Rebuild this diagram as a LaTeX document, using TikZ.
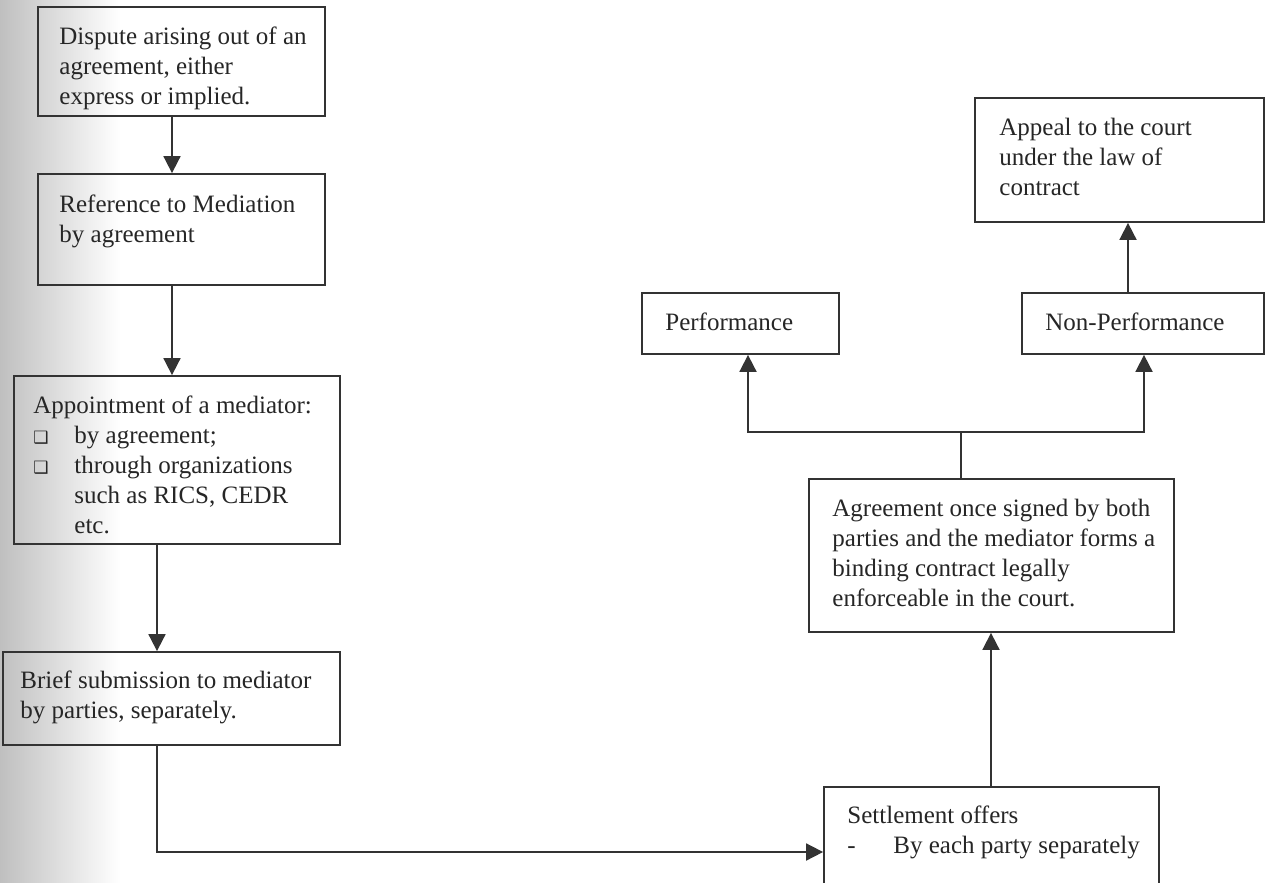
\documentclass[tikz,border=0pt]{standalone}
\usepackage{fontspec}
\setmainfont{Liberation Serif}
\newfontfamily\symfont{DejaVu Sans}
\usetikzlibrary{arrows.meta,fit}
\newcommand\mystrut{\rule{0pt}{10pt}}
\newcommand\mybul{\makebox[20.5pt][l]{{\symfont\fontsize{8.5}{8.5}\selectfont ❑}}}
\newcommand\myind{\hspace*{20.5pt}}
\begin{document}
\begin{tikzpicture}[x=0.5pt,y=-0.5pt,
  box/.style={draw=black!80, line width=0.9pt, inner sep=0pt},
  txt/.style={anchor=north west, inner sep=0pt, align=left,
    font=\fontsize{12.5}{15}\selectfont, text=black!85},
  arr/.style={draw=black!80, line width=0.9pt, -{Triangle[length=8.5pt,width=8.5pt]}},
  ln/.style={draw=black!80, line width=0.9pt}]
\useasboundingbox (0,0) rectangle (1272,882);
\clip (0,0) rectangle (1272,882);
\fill[white] (0,0) rectangle (1272,882);
\shade[left color=black!25, right color=white] (0,0) rectangle (120,882);

% left column boxes
\node[box, fit={(38,7) (325,116)}] (b1) {};
\node[box, fit={(38,174) (325,285)}] (b2) {};
\node[box, fit={(14,376) (340,544)}] (b3) {};
\node[box, fit={(3,652) (340,745)}] (b4) {};
% right side boxes
\node[box, fit={(824,787) (1159,900)}] (settle) {};
\node[box, fit={(809,479) (1174,632)}] (agree) {};
\node[box, fit={(642,293) (839,354)}] (perf) {};
\node[box, fit={(1022,293) (1264,354)}] (nonperf) {};
\node[box, fit={(975,98) (1264,222)}] (appeal) {};

% texts
\node[txt] (t1) at (59,24) {\mystrut Dispute arising out of an\\agreement, either\\express or implied.};
\node[txt] (t2) at (59,192) {\mystrut Reference to Mediation\\by agreement};
\node[txt] (t3) at (33,393) {\mystrut Appointment of a mediator:\\\mybul by agreement;\\\mybul through organizations\\\myind such as RICS, CEDR\\\myind etc.};
\node[txt] (t4) at (20,668) {\mystrut Brief submission to mediator\\by parties, separately.};
\node[txt] (t5) at (847,803) {\mystrut Settlement offers\\\makebox[23pt][l]{-}By each party separately};
\node[txt] (t6) at (832,496) {\mystrut Agreement once signed by both\\parties and the mediator forms a\\binding contract legally\\enforceable in the court.};
\node[txt] (t7) at (665,310) {\mystrut Performance};
\node[txt] (t8) at (1045,310) {\mystrut Non-Performance};
\node[txt] (t9) at (999,115) {\mystrut Appeal to the court\\under the law of\\contract};

% connectors
\draw[arr] (b1.south -| 172,0) -- (b2.north -| 172,0);
\draw[arr] (b2.south -| 172,0) -- (b3.north -| 172,0);
\draw[arr] (b3.south -| 157,0) -- (b4.north -| 157,0);
\draw[arr] (b4.south -| 157,0) |- (settle.west |- 0,852);
\draw[arr] (settle.north -| 991,0) -- (agree.south -| 991,0);
\coordinate (junc) at (961,432);
\draw[ln] (agree.north -| junc) -- (junc);
\draw[arr] (junc) -| (perf.south -| 748,0);
\draw[arr] (junc) -| (nonperf.south -| 1144,0);
\draw[arr] (nonperf.north -| 1128,0) -- (appeal.south -| 1128,0);
\end{tikzpicture}
\end{document}
